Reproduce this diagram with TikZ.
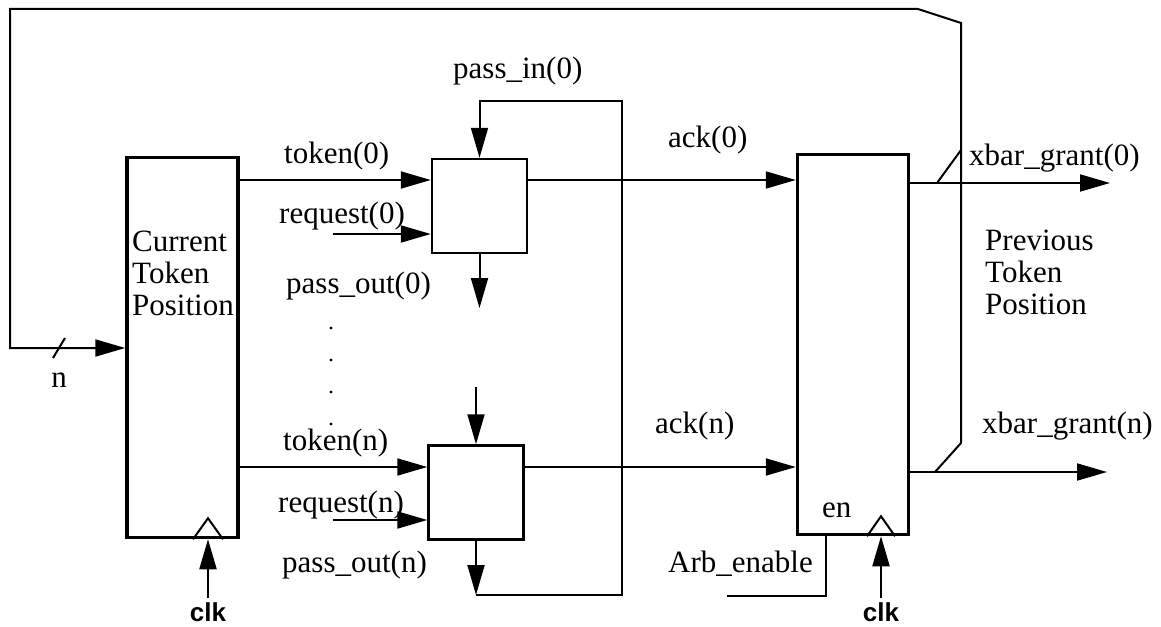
\documentclass[tikz,border=0pt]{standalone}
\usepackage{fontspec}
\setmainfont{Liberation Serif}
\setsansfont{Liberation Sans}
\usetikzlibrary{arrows.meta, positioning}

\begin{document}
\begin{tikzpicture}[
    x=1pt, y=-1pt,
    font=\fontsize{31}{32}\selectfont,
    reg/.style={draw, line width=3.5pt, minimum width=111pt, minimum height=380pt, inner sep=0pt},
    cell/.style={draw, line width=2.5pt, minimum width=95pt, minimum height=94pt, inner sep=0pt},
    wire/.style={line width=2pt},
    sig/.style={wire, -{Triangle[length=30pt, width=17pt]}},
    lbl/.style={anchor=base west, inner sep=0pt},
    clklbl/.style={font=\sffamily\bfseries\fontsize{26}{26}\selectfont, inner sep=4pt}
]
\useasboundingbox (0,0) rectangle (1161,626);
% registers and arbiter cells
\node[reg] (cur) at (182.5,347.5) {};
\node[reg] (prev) at (853,344.5) {};
\node[cell] (cell0) at (479.5,206) {};
\node[cell] (celln) at (476,492.5) {};
\node[lbl, align=left] (curtxt) at (132,315) {Current\\Token\\Position};
\node[lbl, align=left] (prevtxt) at (985,314) {Previous\\Token\\Position};
\node[lbl] (en) at (822,517) {en};

% clocks
\node[clklbl] (clk0) at (208,612) {clk};
\node[clklbl] (clk1) at (881,612) {clk};
\draw[sig] (clk0.north) -- (clk0.north |- cur.south);
\draw[sig] (clk1.north) -- (clk1.north |- prev.south);
\draw[wire] (clk0 |- cur.south) ++(-15,0) -- ++(15,-21) -- ++(15,21);
\draw[wire] (clk1 |- prev.south) ++(-14,0) -- ++(14,-20) -- ++(14,20);

% token, request and ack lines
\coordinate (tok0) at (0,180);
\coordinate (tokn) at (0,467);
\coordinate (req0) at (333,234);
\coordinate (reqn) at (333,520);
\draw[sig] (cur.east |- tok0) -- (cell0.west |- tok0);
\draw[sig] (req0) -- (cell0.west |- req0);
\draw[sig] (cur.east |- tokn) -- (celln.west |- tokn);
\draw[sig] (reqn) -- (celln.west |- reqn);
\draw[sig] (cell0.east |- tok0) -- (prev.west |- tok0);
\draw[sig] (celln.east |- tokn) -- (prev.west |- tokn);
\node[lbl] (ltok0) at (284,163) {token(0)};
\node[lbl] (lreq0) at (279,223) {request(0)};
\node[lbl] (ltokn) at (283,450) {token(n)};
\node[lbl] (lreqn) at (278,512) {request(n)};
\node[lbl] (lack0) at (668,147) {ack(0)};
\node[lbl] (lackn) at (655,433) {ack(n)};

% pass chain
\coordinate (ltop) at (622,101);
\coordinate (lbot) at (622,595);
\coordinate (po0) at (0,308);
\coordinate (pin) at (0,387);
\draw[sig] (cell0.south) -- (cell0.south |- po0);
\draw[sig] (celln.north |- pin) -- (celln.north);
\draw[sig] (celln.south) -- (celln.south |- lbot);
\draw[sig] (celln.south |- lbot) -- (lbot) -- (ltop) -- (cell0.north |- ltop) -- (cell0.north);
\node[lbl] (lpin) at (453,78) {pass\_in(0)};
\node[lbl] (lpo0) at (286,293) {pass\_out(0)};
\node[lbl] (lpon) at (282,572) {pass\_out(n)};
\foreach \y in {328,360,392,424}
    \fill (331,\y) circle (1.7);

% outputs and feedback bus
\coordinate (xg0) at (1110,183);
\coordinate (xgn) at (1107,472);
\coordinate (tap0) at (937,183);
\coordinate (tapn) at (935,472);
\coordinate (busa) at (961,150);
\coordinate (busb) at (961,443);
\coordinate (bust) at (961,23);
\coordinate (busk) at (918,9);
\coordinate (busl) at (10,9);
\coordinate (fb) at (10,348);
\draw[sig] (prev.east |- xg0) -- (xg0);
\draw[sig] (prev.east |- xgn) -- (xgn);
\draw[sig] (tapn) -- (busb) -- (bust) -- (busk) -- (busl) -- (fb) -- (cur.west |- fb);
\draw[wire] (tap0) -- (busa);
\draw[wire] (53,358) -- (65,338);
\node[lbl, anchor=base] (lnn) at (59,387) {n};
\node[lbl] (lxg0) at (969,165) {xbar\_grant(0)};
\node[lbl] (lxgn) at (982,433) {xbar\_grant(n)};

% enable
\coordinate (arbin) at (727,596);
\coordinate (encorner) at (826,596);
\draw[wire] (arbin) -- (encorner) -- (encorner |- prev.south);
\node[lbl] (larb) at (668,572) {Arb\_enable};
\end{tikzpicture}
\end{document}
